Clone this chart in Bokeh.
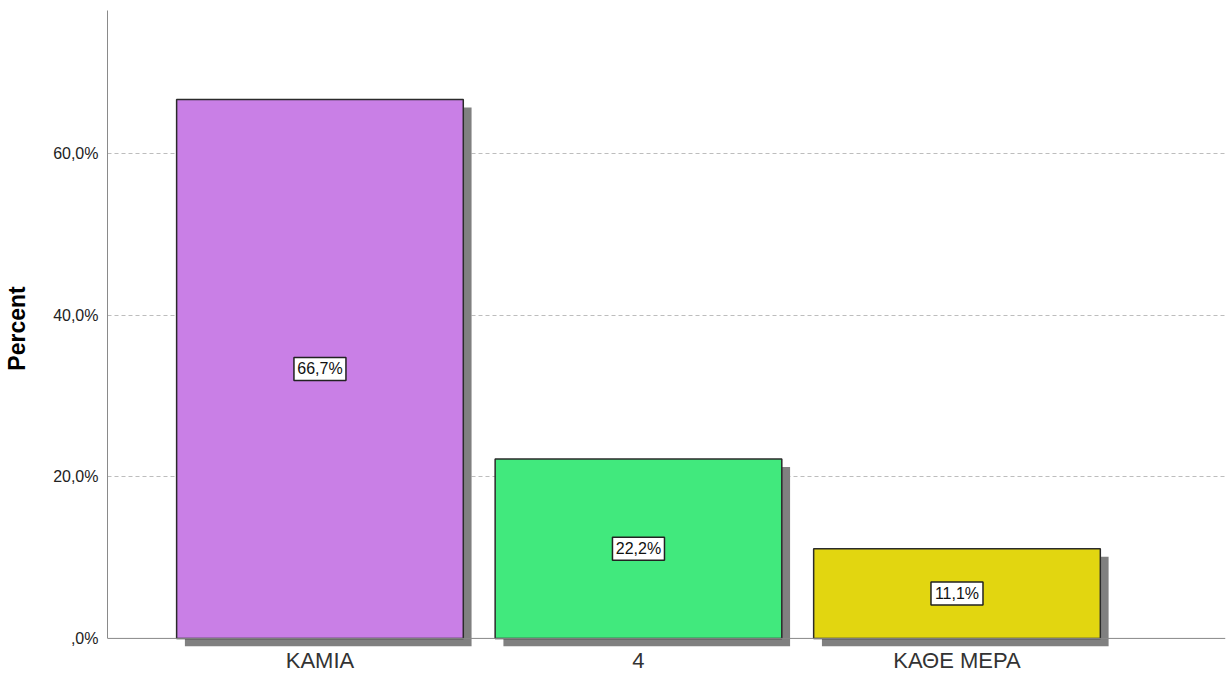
from bokeh.plotting import figure
from bokeh.models import Range1d, FixedTicker, Span, ColumnDataSource
from bokeh.core.properties import value
from bokeh.embed import file_html
from bokeh.resources import INLINE

# ---- data ----
categories = ["ΚΑΜΙΑ", "4", "ΚΑΘΕ ΜΕΡΑ"]
percents = [66.7, 22.2, 11.1]
bar_labels = ["66,7%", "22,2%", "11,1%"]
colors = ["#C97FE6", "#41E97D", "#E2D610"]
y_ticks = [0, 20, 40, 60]
y_tick_labels = [",0%", "20,0%", "40,0%", "60,0%"]

# ---- layout constants ----
X0, X1 = -0.667, 2.843
Y0, Y1 = -1.0, 77.7
BAR_W = 0.9
SHADOW_DX = 0.026   # ~8px
SHADOW_DY = 0.99    # ~8px

xs = list(range(len(categories)))

p = figure(width=1232, height=675, output_backend="svg", toolbar_location=None,
           x_range=Range1d(X0, X1), y_range=Range1d(Y0, Y1),
           min_border_left=107, min_border_right=7, min_border_top=10, min_border_bottom=29)
p.outline_line_color = None
p.background_fill_color = "white"

# grid
p.xgrid.visible = False
p.ygrid.ticker = FixedTicker(ticks=[t for t in y_ticks if t > 0])
p.ygrid.grid_line_color = "#bdbdbd"
p.ygrid.grid_line_dash = "4 3"
p.ygrid.grid_line_width = 1

# shadows
src_sh = ColumnDataSource(dict(
    left=[x - BAR_W / 2 + SHADOW_DX for x in xs],
    right=[x + BAR_W / 2 + SHADOW_DX for x in xs],
    top=[v - SHADOW_DY for v in percents],
    bottom=[-SHADOW_DY] * len(xs),
))
p.quad(left="left", right="right", top="top", bottom="bottom", source=src_sh,
       fill_color="#808080", line_color=None)

# bars
src = ColumnDataSource(dict(x=xs, top=percents, color=colors,
                            mid=[v / 2 for v in percents], lab=bar_labels))
p.vbar(x="x", top="top", bottom=0, width=BAR_W, source=src,
       fill_color="color", line_color="#2b2b2b", line_width=1.5)

# x axis line at 0
p.add_layout(Span(location=0, dimension="width", line_color="#888888", line_width=1))

# value label boxes
p.rect(x="x", y="mid", width=52, height=23, width_units="screen", height_units="screen",
       source=src, fill_color="white", line_color="#222222", line_width=1.5)
p.text(x="x", y="mid", text="lab", source=src, text_align="center",
       text_baseline="middle", text_font=value("Liberation Sans"),
       text_font_size="16px", text_color="#111111")

# y axis
p.yaxis.ticker = FixedTicker(ticks=y_ticks)
p.yaxis.major_label_overrides = {t: l for t, l in zip(y_ticks, y_tick_labels)}
p.yaxis.bounds = (0, Y1)
p.yaxis.axis_line_color = "#8a8a8a"
p.yaxis.major_tick_line_color = None
p.yaxis.minor_tick_line_color = None
p.yaxis.major_tick_out = 0
p.yaxis.major_tick_in = 0
p.yaxis.major_label_standoff = 9
p.yaxis.major_label_text_font = "Liberation Sans"
p.yaxis.major_label_text_font_size = "16px"
p.yaxis.major_label_text_color = "#222222"
p.yaxis.axis_label = "Percent"
p.yaxis.axis_label_text_font = "Liberation Sans"
p.yaxis.axis_label_text_font_style = "bold"
p.yaxis.axis_label_text_font_size = "23px"
p.yaxis.axis_label_text_color = "#000000"
p.yaxis.axis_label_standoff = 20

# x axis
p.xaxis.ticker = FixedTicker(ticks=xs)
p.xaxis.major_label_overrides = {x: c for x, c in zip(xs, categories)}
p.xaxis.axis_line_color = None
p.xaxis.major_tick_line_color = None
p.xaxis.minor_tick_line_color = None
p.xaxis.major_tick_out = 0
p.xaxis.major_tick_in = 0
p.xaxis.major_label_standoff = 1
p.xaxis.major_label_text_font = "Liberation Sans"
p.xaxis.major_label_text_font_size = "22px"
p.xaxis.major_label_text_color = "#333333"

open("out.html", "w").write(file_html(p, INLINE))
